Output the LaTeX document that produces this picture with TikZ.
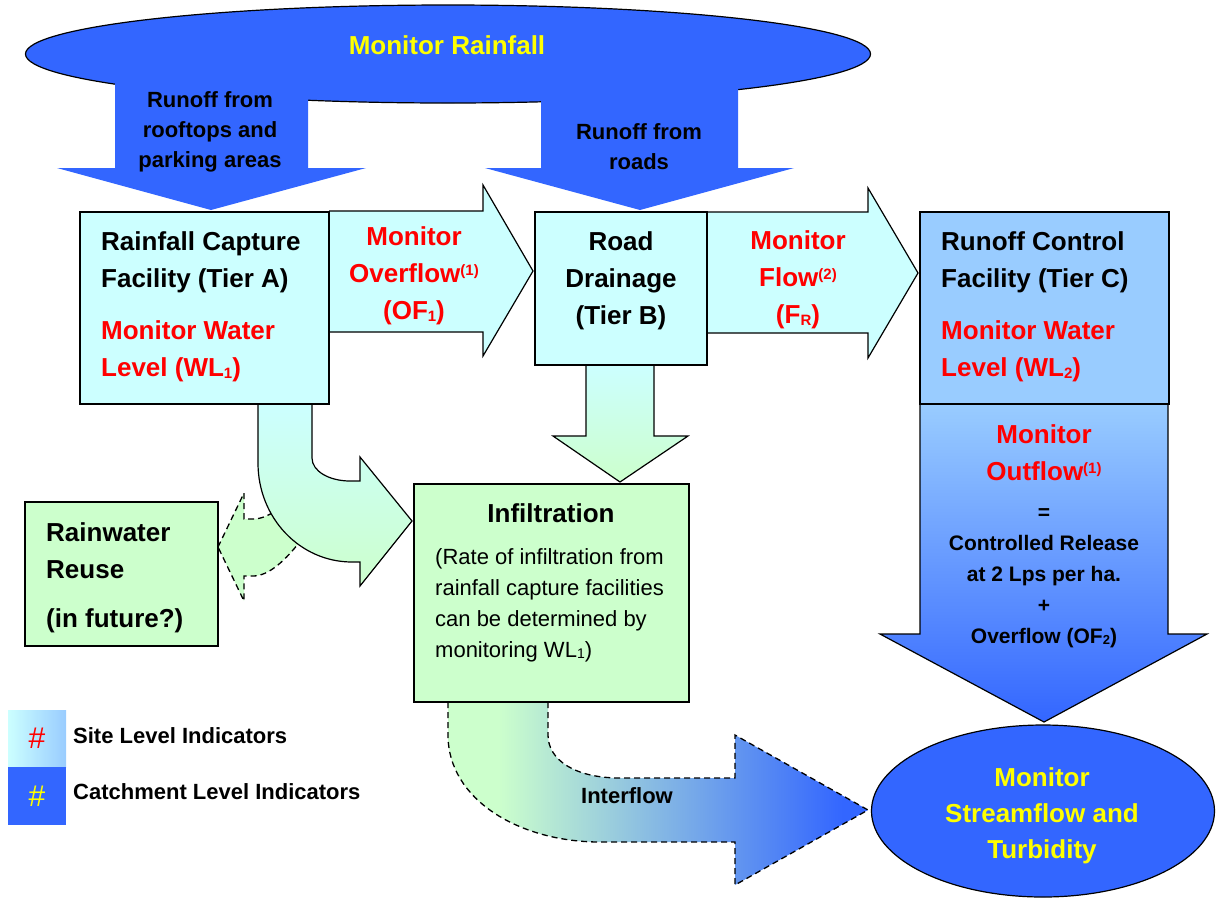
\documentclass[tikz,border=0pt]{standalone}
\usepackage{fontspec}
\setmainfont{Liberation Sans}
\usetikzlibrary{shapes.geometric}
\definecolor{rainblue}{HTML}{3366FF}
\definecolor{sitecyan}{HTML}{CCFFFF}
\definecolor{sitegreen}{HTML}{CCFFCC}
\definecolor{ctrlblue}{HTML}{99CCFF}
\definecolor{monred}{HTML}{FF0000}
\definecolor{monyellow}{HTML}{FFFF00}
\newcommand{\subidx}[2][15]{\raisebox{-0.15ex}{\fontsize{#1}{#1}\selectfont #2}}
\newcommand{\supidx}[2][15]{\raisebox{0.55ex}{\fontsize{#1}{#1}\selectfont #2}}
\pgfdeclarehorizontalshading{interflowshade}{100bp}{color(0bp)=(sitegreen); color(31bp)=(sitegreen); color(72bp)=(rainblue); color(100bp)=(rainblue)}
\tikzset{
  facility/.style={draw, line width=1.6pt, inner sep=0pt},
  blockarrow/.style={draw, line width=1.2pt, line join=miter},
  dashedarrow/.style={draw, line width=1.3pt, dash pattern=on 6pt off 4pt},
  bigtext/.style={font=\fontsize{26}{37}\selectfont\bfseries, align=center, inner sep=0pt},
  lefttext/.style={bigtext, align=left, anchor=west},
  runofftext/.style={font=\fontsize{22}{30}\selectfont\bfseries, align=center, inner sep=0pt},
  releasetext/.style={font=\fontsize{21}{31}\selectfont\bfseries, align=center, inner sep=0pt},
  notetext/.style={font=\fontsize{22}{31}\selectfont, align=left, anchor=west, inner sep=0pt},
  keytext/.style={font=\fontsize{22}{22}\selectfont\bfseries, anchor=west, inner sep=0pt},
  keybox/.style={minimum width=58pt, minimum height=57pt, inner sep=0pt, font=\fontsize{30}{30}\selectfont}
}

\begin{document}
\begin{tikzpicture}[x=1pt, y=-1pt]
\useasboundingbox (0,0) rectangle (1218,898);

% rainfall and runoff
\node[ellipse, draw, line width=1.2pt, fill=rainblue, minimum width=845pt, minimum height=98pt, inner sep=0pt] (rain) at (448,54) {};
\fill[rainblue] (115,60) -- (115,168) -- (57,168) -- (211,210) -- (366,168) -- (308,168) -- (308,60) -- cycle;
\fill[rainblue] (541,60) -- (541,168) -- (485,168) -- (640,210) -- (794,168) -- (738,168) -- (738,60) -- cycle;
\node[bigtext, text=monyellow] (rainlbl) at (447,45) {Monitor Rainfall};
\node[runofftext] (roofs) at (210,132) {Runoff from\\rooftops and\\parking areas};
\node[runofftext] (roads) at (639,147) {Runoff from\\roads};

% flows between tiers
\draw[blockarrow, fill=sitecyan] (329,211) -- (483,211) -- (483,185) -- (533,271) -- (483,356) -- (483,332) -- (329,332);
\draw[blockarrow, fill=sitecyan] (707,212) -- (868,212) -- (868,188) -- (918,273) -- (868,358) -- (868,333) -- (707,333);
\draw[blockarrow, top color=sitecyan, bottom color=sitegreen] (586,365) -- (586,436) -- (553,436) -- (620,482) -- (688,436) -- (654,436) -- (654,365);
\draw[dashedarrow, fill=sitegreen] (218,547) -- (244,493) -- (244,519) -- (253,519) .. controls (262,519) and (270,515) .. (285,505) -- (310,520) -- (305,535) .. controls (285,562) and (268,576) .. (253,576) -- (244,576) -- (244,601) -- cycle;
\draw[blockarrow, top color=sitecyan, bottom color=sitegreen] (258,404) -- (258,463) .. controls (258,518) and (300,562) .. (352,562) -- (360,562) -- (360,586) -- (412,521) -- (360,457) -- (360,481) -- (350,481) .. controls (329,481) and (312,471) .. (312,458) -- (312,404);
\draw[dashedarrow, shade, shading=interflowshade] (448,702) -- (448,735) .. controls (448,800) and (520,842) .. (600,842) -- (735,842) -- (735,885) -- (868,810) -- (735,735) -- (735,778) -- (620,778) .. controls (575,778) and (548,760) .. (548,735) -- (548,702);
\node[runofftext] (interflow) at (627,796) {Interflow};
\draw[blockarrow, top color=ctrlblue, bottom color=rainblue] (920,404) -- (920,634) -- (880,634) -- (1044,722) -- (1207,634) -- (1168,634) -- (1168,404);
\node[ellipse, draw, line width=1.2pt, fill=rainblue, minimum width=343pt, minimum height=172pt, inner sep=0pt] (stream) at (1043,811) {};
\node[font=\fontsize{26}{36}\selectfont\bfseries, text=monyellow, align=center, inner sep=0pt] (streamlbl) at (1042,816) {Monitor\\Streamflow and\\Turbidity};

% facilities
\node[facility, fill=sitecyan, minimum width=249pt, minimum height=192pt] (tierA) at (204.5,308) {};
\node[facility, fill=sitecyan, minimum width=172pt, minimum height=153pt] (tierB) at (621,288.5) {};
\node[facility, fill=ctrlblue, minimum width=249pt, minimum height=192pt] (tierC) at (1044.5,308) {};
\node[facility, fill=sitegreen, minimum width=275pt, minimum height=218pt] (infil) at (551.5,593) {};
\node[facility, fill=sitegreen, minimum width=193pt, minimum height=144pt] (reuse) at (121.5,574) {};

\node[lefttext] (tierAlbl) at (101,262) {Rainfall Capture\\Facility (Tier A)};
\node[lefttext, text=monred] (wlone) at (101,351) {Monitor Water\\Level (WL\subidx{1})};
\node[bigtext, text=monred] (ofone) at (414,276) {Monitor\\Overflow\supidx{(1)}\\(OF\subidx{1})};
\node[bigtext] (tierBlbl) at (621,281) {Road\\Drainage\\(Tier B)};
\node[bigtext, text=monred] (flowr) at (798,280) {Monitor\\Flow\supidx{(2)}\\(F\subidx{R})};
\node[lefttext] (tierClbl) at (941,262) {Runoff Control\\Facility (Tier C)};
\node[lefttext, text=monred] (wltwo) at (941,351) {Monitor Water\\Level (WL\subidx{2})};
\node[bigtext, text=monred] (outflow) at (1044,453) {Monitor\\Outflow\supidx{(1)}};
\node[releasetext] (release) at (1044,578) {=\\Controlled Release\\at 2 Lps per ha.\\+\\Overflow (OF\subidx[13]{2})};
\node[bigtext] (infillbl) at (551,513) {Infiltration};
\node[notetext] (infilnote) at (435,605) {(Rate of infiltration from\\rainfall capture facilities\\can be determined by\\monitoring WL\subidx[14]{1})};
\node[lefttext] (reuselbl) at (46,551) {Rainwater\\Reuse};
\node[lefttext] (futurelbl) at (46,621) {(in future?)};

% key
\node[keybox, left color=sitecyan, right color=ctrlblue] (sitekey) at (37,738.5) {\color{monred}\#};
\node[keybox, minimum height=58pt, fill=rainblue] (catchkey) at (37,796) {\color{monyellow}\#};
\node[keytext] (sitelbl) at (73,736) {Site Level Indicators};
\node[keytext] (catchlbl) at (73,792) {Catchment Level Indicators};

\end{tikzpicture}
\end{document}
